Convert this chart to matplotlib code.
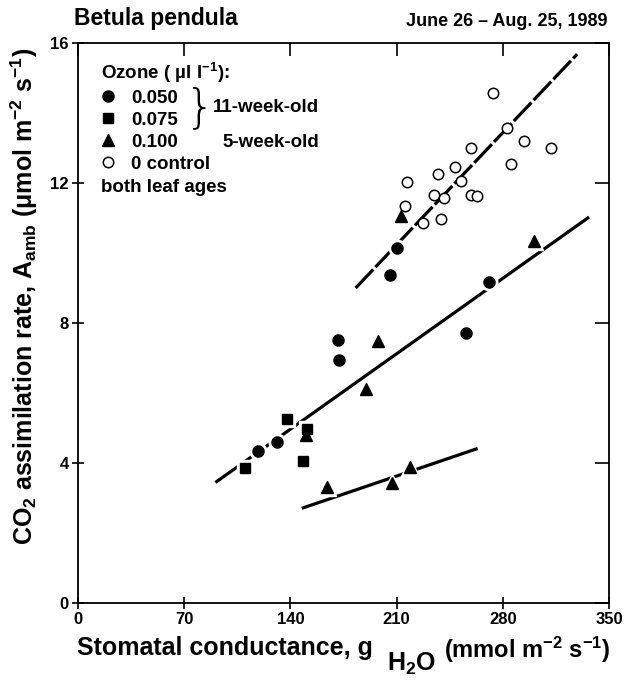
import matplotlib
matplotlib.use('Agg')
import matplotlib.pyplot as plt

plt.rcParams['font.family'] = ['Liberation Sans', 'DejaVu Sans']
plt.rcParams['font.weight'] = 'bold'
plt.rcParams['mathtext.fontset'] = 'custom'
plt.rcParams['mathtext.rm'] = 'Liberation Sans:bold'
plt.rcParams['mathtext.it'] = 'Liberation Sans:bold'
plt.rcParams['mathtext.bf'] = 'Liberation Sans:bold'
plt.rcParams['mathtext.default'] = 'rm'

# ozone 0.050 (filled circles)
g_050 = [118.7, 131.2, 171.4, 171.8, 205.9, 210.5, 256.0, 271.2]
a_050 = [4.33, 4.61, 7.51, 6.93, 9.38, 10.13, 7.72, 9.18]
# ozone 0.075 (filled squares)
g_075 = [110.3, 137.6, 148.3, 151.0]
a_075 = [3.85, 5.25, 4.05, 4.96]
# ozone 0.100 (filled triangles)
g_100 = [150.3, 164.1, 189.6, 197.5, 207.0, 212.9, 218.6, 300.8]
a_100 = [4.80, 3.32, 6.12, 7.49, 3.42, 11.06, 3.90, 10.33]
# control (open circles)
g_ctl = [273.4, 282.6, 294.2, 311.6, 285.2, 259.1, 248.3, 237.3, 216.7,
         252.7, 234.9, 241.1, 259.3, 262.8, 215.6, 239.1, 227.6]
a_ctl = [14.56, 13.56, 13.20, 12.99, 12.55, 12.99, 12.47, 12.27, 12.04,
         12.05, 11.66, 11.58, 11.66, 11.64, 11.35, 10.96, 10.87]

# regression lines (end points)
line_upper_x = [183.0, 329.0]
line_upper_y = [9.0, 15.68]
line_mid_x = [91.4, 336.0]
line_mid_y = [3.47, 11.0]
line_low_x = [148.5, 262.4]
line_low_y = [2.72, 4.40]

xticks = [0, 70, 140, 210, 280, 350]
yticks = [0, 4, 8, 12, 16]

fig = plt.figure(figsize=(6.28, 6.82), dpi=100)
ax = fig.add_axes([78 / 628, 1 - 603 / 682, 531 / 628, 560 / 682])

ax.plot(line_upper_x, line_upper_y, color='black', lw=2.3, dashes=(8, 1.0), solid_capstyle='butt', zorder=2)
ax.plot(line_mid_x, line_mid_y, color='black', lw=2.3, zorder=2)
ax.plot(line_low_x, line_low_y, color='black', lw=2.3, zorder=2)

# white halo under filled markers so the lines look broken around them
for gx, ay, mk, ms in [(g_050, a_050, 'o', 8), (g_075, a_075, 's', 7.5), (g_100, a_100, '^', 8.5)]:
    ax.plot(gx, ay, ls='none', marker=mk, ms=ms + 4, color='white', zorder=3)

h1, = ax.plot(g_050, a_050, ls='none', marker='o', ms=8, color='black', zorder=4)
h2, = ax.plot(g_075, a_075, ls='none', marker='s', ms=7.5, color='black', zorder=4)
h3, = ax.plot(g_100, a_100, ls='none', marker='^', ms=8.5, color='black', zorder=4)
h4, = ax.plot(g_ctl, a_ctl, ls='none', marker='o', ms=7.5, mfc='white', mec='black', mew=1.1, zorder=4)

ax.set_xlim(0, 350)
ax.set_ylim(0, 16)
ax.set_xticks(xticks)
ax.set_yticks(yticks)
ax.set_xticklabels([str(v) for v in xticks], fontsize=12, fontweight='bold')
ax.set_yticklabels([str(v) for v in yticks], fontsize=12, fontweight='bold')
ax.tick_params(axis='both', which='both', direction='inout', length=9, width=1.2, pad=2)
ax.tick_params(top=True, right=True)
for sp in ax.spines.values():
    sp.set_linewidth(1.3)

# top/right ticks point inward only
for t in ax.xaxis.get_major_ticks():
    t.tick2line.set_marker(3)
    t.tick2line.set_markersize(9)
for t in ax.yaxis.get_major_ticks():
    t.tick2line.set_marker(0)
    t.tick2line.set_markersize(10)

fs_leg = 13.5
leg = ax.legend([h1, h2, h3, h4], ['0.050', '0.075', '0.100', '0 control'],
                title='Ozone ( \u00b5l l$^{-1}$):', loc='upper left',
                bbox_to_anchor=(0.043, 0.968), frameon=False, fontsize=fs_leg,
                title_fontsize=fs_leg, alignment='left', handlelength=0.8,
                handletextpad=0.8, labelspacing=0.26, borderpad=0, borderaxespad=0)
for txt in leg.get_texts():
    txt.set_fontweight('bold')
leg.get_title().set_fontweight('bold')

ax.text(0.229, 0.884, '}', transform=ax.transAxes, fontsize=34, fontweight='light',
        family='DejaVu Sans', va='center', ha='center')
ax.text(0.254, 0.884, '11-week-old', transform=ax.transAxes, fontsize=fs_leg, fontweight='bold', va='center')
ax.text(0.273, 0.823, '5-week-old', transform=ax.transAxes, fontsize=fs_leg, fontweight='bold', va='center')
ax.text(0.043, 0.742, 'both leaf ages', transform=ax.transAxes, fontsize=fs_leg, fontweight='bold', va='center')

fig.text(74 / 628, 1 - 19 / 682, 'Betula pendula', fontsize=16.5, fontweight='bold', va='center', ha='left')
fig.text(607 / 628, 1 - 21 / 682, 'June 26 \u2013 Aug. 25, 1989', fontsize=13, fontweight='bold', va='center', ha='right')

fig.text(24 / 628, 1 - 296 / 682,
         r'CO$_2$ assimilation rate, A$_{\mathrm{amb}}$ ($\mathrm{\mu}$mol m$^{-2}$ s$^{-1}$)',
         rotation=90, fontsize=18, fontweight='bold', va='center', ha='center')

# x label built in pieces: large lowered subscript as in the original
fig.canvas.draw()
r = fig.canvas.get_renderer()
t1 = fig.text(77 / 628, 1 - 655 / 682, 'Stomatal conductance, g', fontsize=18, fontweight='bold',
              va='baseline', ha='left')
bb = t1.get_window_extent(r)
t2 = fig.text((bb.x1 + 14) / 628, 1 - 671 / 682, r'H$_2$O', fontsize=18, fontweight='bold',
              va='baseline', ha='left')
bb2 = t2.get_window_extent(r)
fig.text((bb2.x1 + 8) / 628, 1 - 658 / 682, r'(mmol m$^{-2}$ s$^{-1}$)', fontsize=17, fontweight='bold',
         va='baseline', ha='left')

fig.savefig('out.png', dpi=100)
